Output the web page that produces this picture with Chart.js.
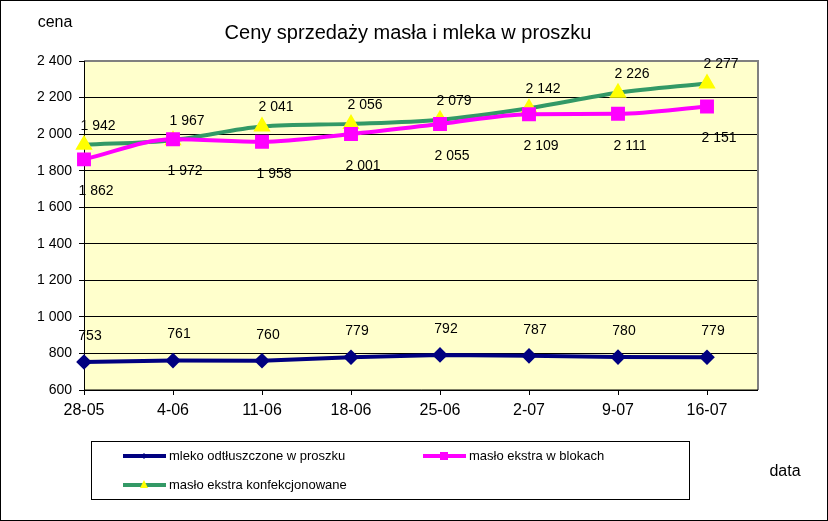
<!DOCTYPE html>
<html>
<head>
<meta charset="utf-8">
<script src="https://cdn.jsdelivr.net/npm/chart.js@4"></script>
<style>
  html, body { margin: 0; padding: 0; background: #fff; }
  #wrap { width: 828px; height: 521px; position: relative; }
</style>
</head>
<body>
<div id="wrap"><canvas id="c" width="828" height="521"></canvas></div>
<script>
// Ceny sprzedaży masła i mleka w proszku
const dates = ['28-05', '4-06', '11-06', '18-06', '25-06', '2-07', '9-07', '16-07'];
const mleko = [753, 761, 760, 779, 792, 787, 780, 779];
const masloBloki = [1862, 1972, 1958, 2001, 2055, 2109, 2111, 2151];
const masloKonf = [1942, 1967, 2041, 2056, 2079, 2142, 2226, 2277];
const yTicks = { min: 600, max: 2400, step: 200 };

const fmt = (v) => String(v).replace(/\B(?=(\d{3})+(?!\d))/g, ' ');
const toPts = (arr) => arr.map((v, i) => ({ x: i, y: v }));

const FONT = 'Arial, "Liberation Sans", sans-serif';

const extras = {
    id: 'extras',
    beforeDraw(chart) {
        const { ctx, chartArea: a } = chart;
        ctx.save();
        ctx.fillStyle = '#fff';
        ctx.fillRect(0, 0, chart.width, chart.height);
        ctx.fillStyle = '#ffffcc';
        ctx.fillRect(a.left, a.top, a.right - a.left, a.bottom - a.top);
        ctx.restore();
    },
    beforeDatasetsDraw(chart) {
        const { ctx, chartArea: a } = chart;
        ctx.save();
        ctx.strokeStyle = '#808080';
        ctx.lineWidth = 2;
        ctx.beginPath();
        ctx.moveTo(a.left, a.top);
        ctx.lineTo(a.right, a.top);
        ctx.lineTo(a.right, a.bottom);
        ctx.stroke();
        ctx.strokeStyle = '#000';
        ctx.lineWidth = 1;
        ctx.beginPath();
        ctx.moveTo(a.left + 0.5, a.top);
        ctx.lineTo(a.left + 0.5, a.bottom);
        ctx.lineTo(a.right, a.bottom);
        ctx.stroke();
        ctx.restore();
    },
    afterDraw(chart) {
        const { ctx } = chart;
        ctx.save();
        ctx.strokeStyle = '#000';
        ctx.lineWidth = 1;
        ctx.strokeRect(0.5, 0.5, chart.width - 1, chart.height - 1);

        ctx.fillStyle = '#000';
        ctx.textBaseline = 'middle';
        ctx.textAlign = 'center';
        ctx.font = '20px ' + FONT;
        ctx.fillText('Ceny sprzedaży masła i mleka w proszku', 408, 33);
        ctx.font = '16px ' + FONT;
        ctx.fillText('cena', 55, 23);
        ctx.fillText('data', 785, 472);

        // legend box
        ctx.strokeRect(91.5, 441.5, 598, 58);
        ctx.font = '13px ' + FONT;
        ctx.textAlign = 'left';
        const spots = [[123, 456], [423, 456], [123, 485]];
        chart.data.datasets.forEach((ds, i) => {
            const [x, y] = spots[i];
            ctx.strokeStyle = ds.borderColor;
            ctx.lineWidth = 4;
            ctx.beginPath();
            ctx.moveTo(x, y);
            ctx.lineTo(x + 43, y);
            ctx.stroke();
            ctx.fillStyle = ds.pointBackgroundColor;
            const cx = x + 21;
            ctx.beginPath();
            if (ds.pointStyle === 'rect') {
                ctx.rect(cx - 4, y - 4, 8, 8);
            } else if (ds.pointStyle === 'triangle') {
                ctx.moveTo(cx, y - 5);
                ctx.lineTo(cx + 4, y + 3);
                ctx.lineTo(cx - 4, y + 3);
                ctx.closePath();
            } else {
                ctx.moveTo(cx, y - 3);
                ctx.lineTo(cx + 3, y);
                ctx.lineTo(cx, y + 3);
                ctx.lineTo(cx - 3, y);
                ctx.closePath();
            }
            ctx.fill();
            ctx.fillStyle = '#000';
            ctx.fillText(ds.label, x + 46, y);
        });
        ctx.restore();
    },
    afterDatasetsDraw(chart) {
        const { ctx } = chart;
        ctx.save();
        ctx.font = '14px ' + FONT;
        ctx.fillStyle = '#000';
        ctx.textAlign = 'center';
        ctx.textBaseline = 'middle';
        chart.data.datasets.forEach((ds, i) => {
            const meta = chart.getDatasetMeta(i);
            const off = ds.labelOffset;
            meta.data.forEach((pt, j) => {
                ctx.fillText(fmt(ds.data[j].y), pt.x + off[0], pt.y + off[1]);
            });
        });
        ctx.restore();
    },
};

new Chart(document.getElementById('c'), {
    type: 'line',
    data: {
        datasets: [
            {
                label: 'mleko odtłuszczone w proszku',
                data: toPts(mleko),
                borderColor: '#000080',
                backgroundColor: '#000080',
                pointBackgroundColor: '#000080',
                pointBorderColor: '#000080',
                pointStyle: 'rectRot',
                pointRadius: 5,
                borderWidth: 4,
                tension: 0,
                clip: false,
                labelOffset: [6, -26],
            },
            {
                label: 'masło ekstra w blokach',
                data: toPts(masloBloki),
                borderColor: '#ff00ff',
                backgroundColor: '#ff00ff',
                pointBackgroundColor: '#ff00ff',
                pointBorderColor: '#ff00ff',
                pointStyle: 'rect',
                pointRadius: 7,
                borderWidth: 4,
                cubicInterpolationMode: 'monotone',
                clip: false,
                labelOffset: [12, 32],
            },
            {
                label: 'masło ekstra konfekcjonowane',
                data: toPts(masloKonf),
                borderColor: '#339966',
                backgroundColor: '#ffff00',
                pointBackgroundColor: '#ffff00',
                pointBorderColor: '#ffff00',
                pointStyle: 'triangle',
                pointRadius: 6,
                borderWidth: 4,
                cubicInterpolationMode: 'monotone',
                clip: false,
                labelOffset: [14, -19],
            },
        ],
    },
    options: {
        responsive: false,
        animation: false,
        layout: { padding: { top: 61, right: 70, bottom: 91, left: 0 } },
        plugins: {
            legend: { display: false },
            tooltip: { enabled: false },
            title: { display: false },
        },
        scales: {
            x: {
                type: 'linear',
                min: 0,
                max: 674 / 89,
                afterBuildTicks(scale) {
                    scale.ticks = dates.map((_, i) => ({ value: i }));
                },
                afterFit(scale) { scale.height = 40; },
                border: { display: false },
                grid: { drawOnChartArea: false, drawTicks: true, tickLength: 5, color: '#000' },
                ticks: {
                    color: '#000',
                    padding: 6,
                    maxRotation: 0,
                    autoSkip: false,
                    font: { family: FONT, size: 16 },
                    callback: (v) => dates[v] ?? '',
                },
            },
            y: {
                min: yTicks.min,
                max: yTicks.max,
                afterFit(scale) { scale.width = 84; },
                border: { display: false },
                grid: { color: '#000', tickLength: 5 },
                ticks: {
                    stepSize: yTicks.step,
                    color: '#000',
                    padding: 7,
                    font: { family: FONT, size: 14 },
                    callback: (v) => fmt(v),
                },
            },
        },
    },
    plugins: [extras],
});
</script>
</body>
</html>
